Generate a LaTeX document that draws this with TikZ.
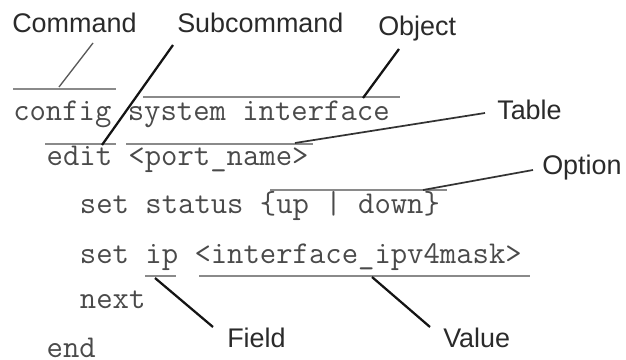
\documentclass[tikz,border=0pt]{standalone}
\usepackage{fontspec}
\setmainfont{Liberation Sans}
\definecolor{labtext}{HTML}{2A2A2A}
\definecolor{codetext}{HTML}{4A4A4A}
\definecolor{barcol}{HTML}{8A8A8A}
\definecolor{leadcol}{HTML}{141414}
\tikzset{
  lab/.style={anchor=base west, inner sep=0pt, text=labtext, font=\fontsize{20.2pt}{24pt}\selectfont},
  code/.style={anchor=base west, inner sep=0pt, text=codetext, font=\ttfamily\fontsize{23.83pt}{26pt}\selectfont},
  bar/.style={draw=barcol, line width=1.8pt},
  lead/.style={draw=leadcol, line width=1.7pt},
  thinlead/.style={draw=black!65, line width=1pt},
  midlead/.style={draw=black!80, line width=1.3pt},
}
\begin{document}
\begin{tikzpicture}[x=0.75pt,y=-0.75pt]
\useasboundingbox (0,0) rectangle (626,360);
% code lines (column width 16.68px, origin x=13)
\node[code] (r0) at (13,121) {config system interface};
\node[code] (r1) at (46.4,166) {edit <port\textunderscore name>};
\node[code] (r2) at (79.7,214) {set status \{up | down\}};
\node[code] (r3) at (79.7,263) {set ip <interface\textunderscore ipv4mask>};
\node[code] (r4) at (79.7,308) {next};
\node[code] (r5) at (46.4,357) {end};
% labels
\node[lab] (lcmd) at (12,33) {Command};
\node[lab] (lsub) at (177,33) {Subcommand};
\node[lab] (lobj) at (378,36) {Object};
\node[lab] (ltab) at (497,120) {Table};
\node[lab] (lopt) at (542,175) {Option};
\node[lab] (lfld) at (227,347) {Field};
\node[lab] (lval) at (443,348) {Value};
% bars
\coordinate (b1a) at (13,89);  \coordinate (b1b) at (116,89);
\coordinate (b2a) at (143,97); \coordinate (b2b) at (400,97);
\coordinate (b3a) at (45,144); \coordinate (b3b) at (116,144);
\coordinate (b4a) at (126,144); \coordinate (b4b) at (313,144);
\coordinate (b5a) at (270,190); \coordinate (b5b) at (447,190);
\coordinate (b6a) at (145,276); \coordinate (b6b) at (176,276);
\coordinate (b7a) at (199,276); \coordinate (b7b) at (530,276);
\draw[bar] (b1a) -- (b1b);
\draw[bar] (b2a) -- (b2b);
\draw[bar] (b3a) -- (b3b);
\draw[bar] (b4a) -- (b4b);
\draw[bar] (b5a) -- (b5b);
\draw[bar] (b6a) -- (b6b);
\draw[bar] (b7a) -- (b7b);
% leader ends
\coordinate (cA) at (59,87);   \coordinate (cB) at (93,43);
\coordinate (sA) at (102,145); \coordinate (sB) at (173,45);
\coordinate (oA) at (363,98);  \coordinate (oB) at (399,49);
\coordinate (tA) at (295,143); \coordinate (tB) at (485,113);
\coordinate (pA) at (423,190); \coordinate (pB) at (533,170);
\coordinate (fA) at (155,278); \coordinate (fB) at (213,327);
\coordinate (vA) at (372,277); \coordinate (vB) at (430,327);
\draw[thinlead] (cA) -- (cB);
\draw[lead] (sA) -- (sB);
\draw[lead] (oA) -- (oB);
\draw[midlead] (tA) -- (tB);
\draw[midlead] (pA) -- (pB);
\draw[lead] (fA) -- (fB);
\draw[lead] (vA) -- (vB);
\end{tikzpicture}
\end{document}
